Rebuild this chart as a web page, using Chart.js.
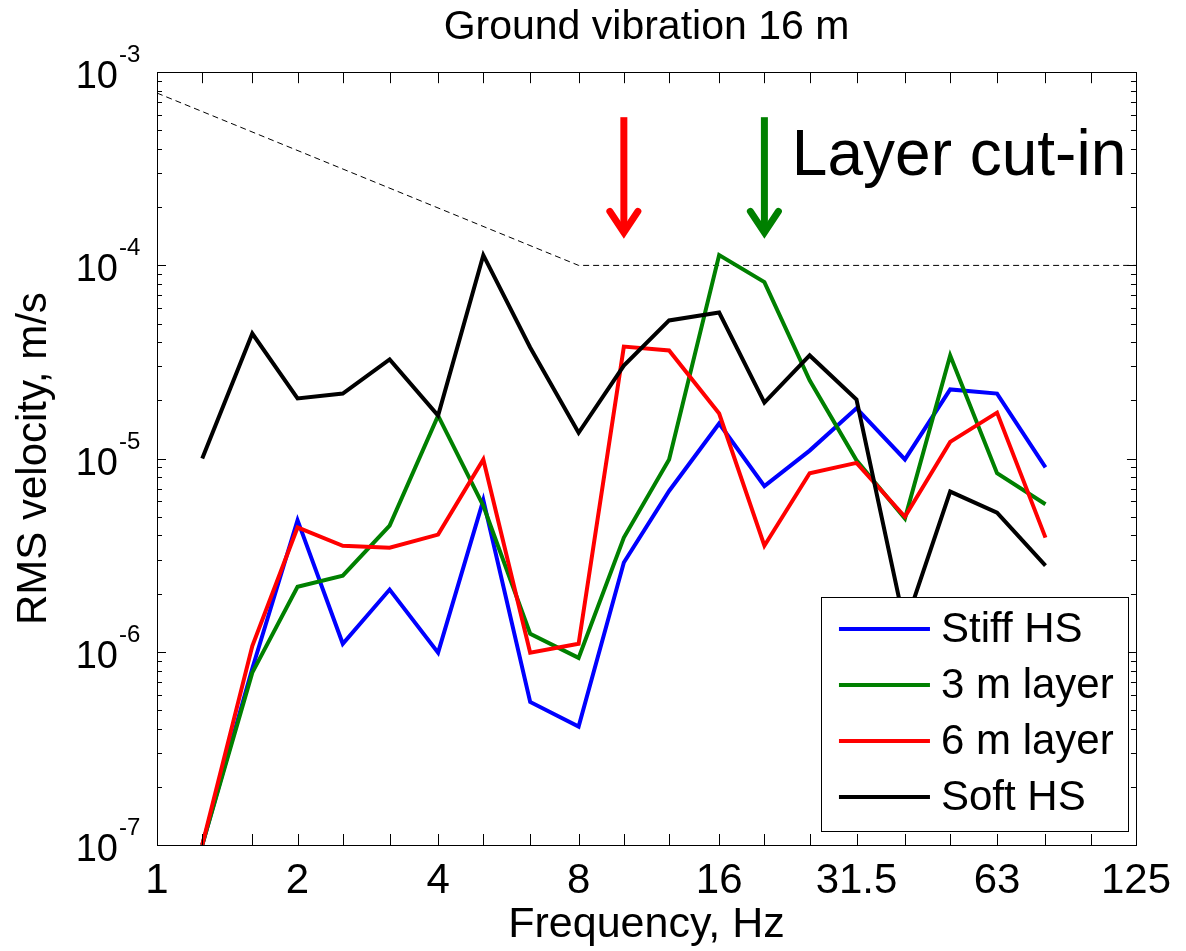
<!DOCTYPE html>
<html>
<head>
<meta charset="utf-8">
<script src="https://cdn.jsdelivr.net/npm/chart.js@4.4.1/dist/chart.umd.min.js"></script>
<style>
  html, body { margin: 0; padding: 0; background: #fff; }
  #wrap { width: 1186px; height: 951px; }
</style>
</head>
<body>
<div id="wrap"><canvas id="vibChart" width="1186" height="951"></canvas></div>
<script>
// 1/3-octave band centre frequencies (Hz) of the results
const freqs = [1.25, 1.6, 2, 2.5, 3.15, 4, 5, 6.3, 8, 10, 12.5, 16, 20, 25, 31.5, 40, 50, 63, 80];

// RMS velocity, m/s
const stiffHS  = [1.0e-7, 8.2e-7, 4.8e-6, 1.1e-6, 2.1e-6, 9.9e-7, 6.1e-6, 5.5e-7, 4.1e-7, 2.9e-6, 6.8e-6, 1.52e-5, 7.2e-6, 1.1e-5, 1.82e-5, 9.9e-6, 2.28e-5, 2.17e-5, 9.0e-6];
const layer3m  = [1.0e-7, 7.8e-7, 2.17e-6, 2.48e-6, 4.5e-6, 1.67e-5, 5.7e-6, 1.24e-6, 9.3e-7, 3.9e-6, 9.9e-6, 1.13e-4, 8.2e-5, 2.54e-5, 9.8e-6, 4.9e-6, 3.42e-5, 8.4e-6, 5.8e-6];
const layer6m  = [1.0e-7, 1.07e-6, 4.4e-6, 3.54e-6, 3.46e-6, 4.04e-6, 9.9e-6, 9.9e-7, 1.1e-6, 3.8e-5, 3.63e-5, 1.71e-5, 3.54e-6, 8.4e-6, 9.5e-6, 5.0e-6, 1.22e-5, 1.73e-5, 3.9e-6];
const softHS   = [1.0e-5, 4.44e-5, 2.05e-5, 2.17e-5, 3.26e-5, 1.67e-5, 1.13e-4, 3.76e-5, 1.36e-5, 3.03e-5, 5.19e-5, 5.7e-5, 1.95e-5, 3.42e-5, 2.02e-5, 1.36e-6, 6.75e-6, 5.25e-6, 2.79e-6];

// dashed criterion curve
const limitFreqs = [1, 8, 125];
const limitLevel = [7.8e-4, 1e-4, 1e-4];

// axis ticks
const bandFreqs = [1, 1.25, 1.6, 2, 2.5, 3.15, 4, 5, 6.3, 8, 10, 12.5, 16, 20, 25, 31.5, 40, 50, 63, 80, 100, 125];
const xTickValues = [1, 2, 4, 8, 16, 31.5, 63, 125];
const xTickLabels = ['1', '2', '4', '8', '16', '31.5', '63', '125'];
const yDecades = [-7, -6, -5, -4, -3];

// "Layer cut-in" arrows
const arrowFreqs = [10, 20];
const arrowColors = ['#ff0000', '#008000'];
const arrowTop = 5.85e-4;
const arrowTip = 1.38e-4;
const cutInLabel = 'Layer cut-in';
const cutInFreq = 22.9;
const cutInLevel = 2.92e-4;

const seriesNames = ['Stiff HS', '3 m layer', '6 m layer', 'Soft HS'];
const seriesColors = ['#0000ff', '#008000', '#ff0000', '#000000'];
const seriesValues = [stiffHS, layer3m, layer6m, softHS];

const FONT = "'Liberation Sans', Arial, sans-serif";
Chart.defaults.font.family = FONT;
Chart.defaults.color = '#000';

const datasets = seriesValues.map((vals, k) => ({
    label: seriesNames[k],
    data: freqs.map((f, i) => ({ x: f, y: vals[i] })),
    borderColor: seriesColors[k],
    borderWidth: 4,
    pointRadius: 0,
    tension: 0,
    fill: false,
    order: 4 - k
}));
datasets.push({
    label: 'limit',
    data: limitFreqs.map((f, i) => ({ x: f, y: limitLevel[i] })),
    borderColor: '#000',
    borderWidth: 1,
    borderDash: [6, 4],
    pointRadius: 0,
    fill: false,
    order: 5
});

// box, inward ticks, y labels with exponents, arrows, legend
const decorations = {
    id: 'decorations',
    afterDatasetsDraw(chart) {
        const { ctx, chartArea: a, scales: { x, y } } = chart;
        ctx.save();

        // frame + ticks
        ctx.strokeStyle = '#000';
        ctx.lineWidth = 1;
        ctx.beginPath();
        bandFreqs.forEach(f => {
            const px = Math.round(x.getPixelForValue(f)) + 0.5;
            ctx.moveTo(px, a.bottom); ctx.lineTo(px, a.bottom - 11);
            ctx.moveTo(px, a.top); ctx.lineTo(px, a.top + 11);
        });
        yDecades.forEach(e => {
            for (let m = 1; m < 10; m++) {
                if (e === -3 && m > 1) break;
                const py = Math.round(y.getPixelForValue(m * Math.pow(10, e))) + 0.5;
                const len = m === 1 ? 9 : 5;
                ctx.moveTo(a.left, py); ctx.lineTo(a.left + len, py);
                ctx.moveTo(a.right, py); ctx.lineTo(a.right - len, py);
            }
        });
        ctx.stroke();
        ctx.strokeRect(Math.round(a.left) + 0.5, Math.round(a.top) + 0.5,
                       Math.round(a.width), Math.round(a.height));

        // y tick labels 10^-n
        ctx.fillStyle = '#000';
        yDecades.forEach(e => {
            const py = y.getPixelForValue(Math.pow(10, e));
            ctx.font = '38px ' + FONT;
            ctx.textAlign = 'right';
            ctx.textBaseline = 'alphabetic';
            ctx.fillText('10', a.left - 39, py + 16);
            ctx.font = '24px ' + FONT;
            ctx.textAlign = 'left';
            ctx.fillText('-' + (-e), a.left - 38, py - 10);
        });

        // arrows
        arrowFreqs.forEach((f, i) => {
            const px = x.getPixelForValue(f);
            const top = y.getPixelForValue(arrowTop);
            const tip = y.getPixelForValue(arrowTip);
            ctx.strokeStyle = arrowColors[i];
            ctx.lineWidth = 7;
            ctx.lineCap = 'butt';
            ctx.beginPath();
            ctx.moveTo(px, top); ctx.lineTo(px, tip - 6);
            ctx.stroke();
            ctx.lineCap = 'round';
            ctx.lineJoin = 'miter';
            ctx.beginPath();
            ctx.moveTo(px - 14, tip - 27);
            ctx.lineTo(px, tip - 6);
            ctx.lineTo(px + 14, tip - 27);
            ctx.stroke();
        });

        ctx.font = '64px ' + FONT;
        ctx.textAlign = 'left';
        ctx.textBaseline = 'alphabetic';
        ctx.fillStyle = '#000';
        ctx.fillText(cutInLabel, x.getPixelForValue(cutInFreq), y.getPixelForValue(cutInLevel));

        // legend box
        const lw = 307, lh = 234;
        const lx = a.right - 8 - lw, ly = a.bottom - 14 - lh;
        ctx.fillStyle = '#fff';
        ctx.fillRect(lx, ly, lw, lh);
        ctx.strokeStyle = '#000';
        ctx.lineWidth = 1;
        ctx.lineCap = 'butt';
        ctx.strokeRect(Math.round(lx) + 0.5, Math.round(ly) + 0.5, lw, lh);
        ctx.font = '42px ' + FONT;
        ctx.textBaseline = 'middle';
        seriesNames.forEach((name, k) => {
            const ry = ly + 32 + k * 56;
            ctx.strokeStyle = seriesColors[k];
            ctx.lineWidth = 4;
            ctx.beginPath();
            ctx.moveTo(lx + 18, ry); ctx.lineTo(lx + 109, ry);
            ctx.stroke();
            ctx.fillStyle = '#000';
            ctx.fillText(name, lx + 120, ry + 1);
        });

        ctx.restore();
    }
};

new Chart(document.getElementById('vibChart'), {
    type: 'line',
    data: { datasets: datasets },
    options: {
        responsive: false,
        animation: false,
        devicePixelRatio: 1,
        layout: { padding: { left: 9, right: 45, top: 0, bottom: 4 } },
        plugins: {
            legend: { display: false },
            tooltip: { enabled: false },
            title: {
                display: true,
                fullSize: false,
                text: 'Ground vibration 16 m',
                color: '#000',
                font: { size: 41, weight: 'normal' },
                padding: { top: 3, bottom: 20 }
            }
        },
        scales: {
            x: {
                type: 'logarithmic',
                min: 1,
                max: 125,
                afterBuildTicks: s => { s.ticks = xTickValues.map(v => ({ value: v })); },
                afterFit: s => { s.height = 102; },
                grid: { display: false, drawTicks: false },
                border: { display: false },
                ticks: {
                    autoSkip: false,
                    maxRotation: 0,
                    padding: 15,
                    color: '#000',
                    font: { size: 42, lineHeight: 1 },
                    callback: (v, i) => xTickLabels[i]
                },
                title: {
                    display: true,
                    text: 'Frequency, Hz',
                    color: '#000',
                    font: { size: 43, lineHeight: 1 },
                    padding: { top: 0, bottom: 0 }
                }
            },
            y: {
                type: 'logarithmic',
                min: 1e-7,
                max: 1e-3,
                afterFit: s => { s.width = 148; },
                grid: { display: false, drawTicks: false },
                border: { display: false },
                ticks: { display: false },
                title: {
                    display: true,
                    text: 'RMS velocity, m/s',
                    color: '#000',
                    font: { size: 42 },
                    padding: { top: 0, bottom: 0 }
                }
            }
        }
    },
    plugins: [decorations]
});
</script>
</body>
</html>
